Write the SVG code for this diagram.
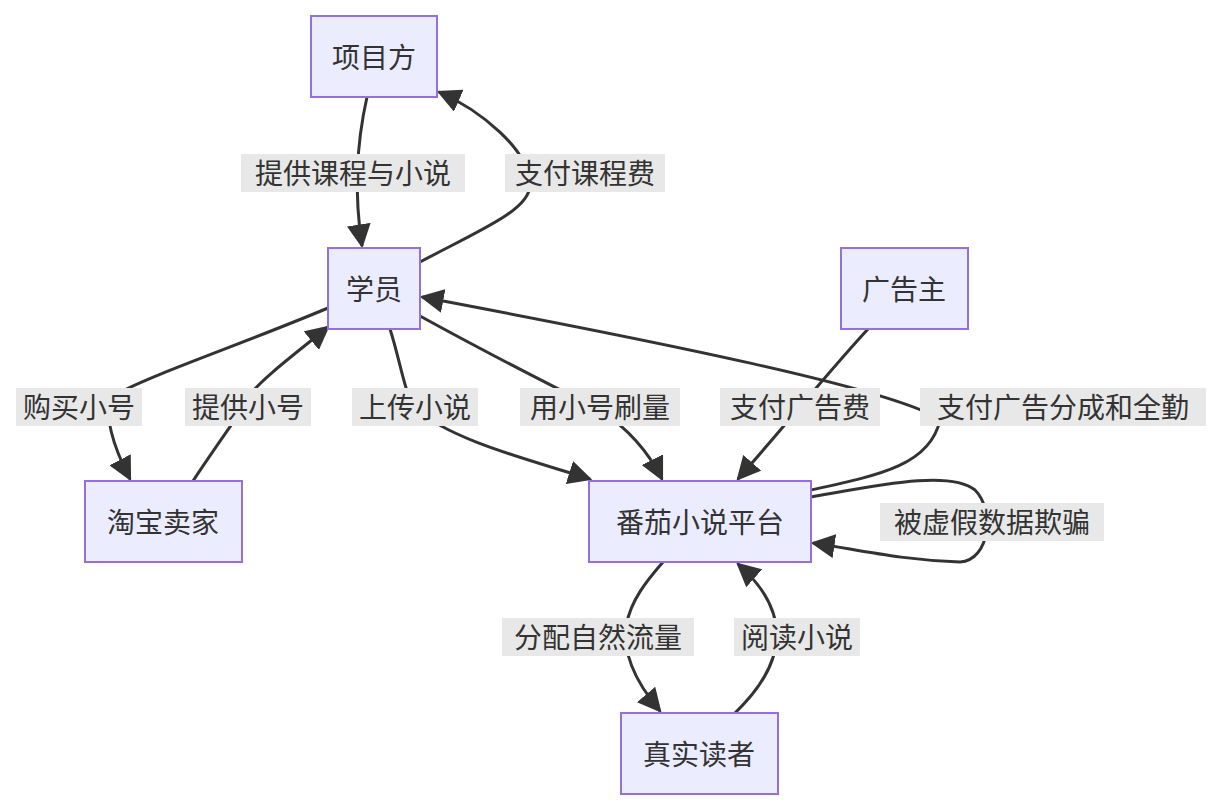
<svg xmlns="http://www.w3.org/2000/svg" width="1224" height="812" viewBox="0 0 1224 812">
<style>
.n rect{fill:#ECECFF;stroke:#9370DB;stroke-width:2}
text{font-family:"Noto Sans CJK SC","Noto Sans",sans-serif;font-size:28px;fill:#333;text-anchor:middle;dominant-baseline:central}
.e path{fill:none;stroke:#333;stroke-width:3;marker-end:url(#a)}
.l rect{fill:#e8e8e8}
</style>
<defs><marker id="a" viewBox="0 0 10 10" refX="8" refY="5" markerWidth="7" markerHeight="7" orient="auto" markerUnits="userSpaceOnUse" ><path d="M0,0L10,5L0,10z" fill="#333"/></marker></defs>
<defs><marker id="b" viewBox="0 0 10 10" refX="9" refY="5" markerWidth="24" markerHeight="24" orient="auto" markerUnits="userSpaceOnUse"><path d="M0,0L10,5L0,10z" fill="#333"/></marker></defs>
<rect width="1224" height="812" fill="#fff"/>
<g class="e" style="--x:0">
<path style="marker-end:url(#b)" d="M367,97 C355,150 355,200 362,246"/>
<path style="marker-end:url(#b)" d="M420,262 C480,230 530,210 530,185 C530,150 480,110 439,92"/>
<path style="marker-end:url(#b)" d="M328,308 C240,345 150,375 115,395 C100,410 115,450 130,479"/>
<path style="marker-end:url(#b)" d="M193,481 C220,440 250,400 250,395 C260,380 300,350 328,327"/>
<path style="marker-end:url(#b)" d="M390,329 C400,360 405,395 415,408 C450,440 530,460 590,479"/>
<path style="marker-end:url(#b)" d="M420,316 C500,360 560,390 600,410 C630,430 650,455 662,479"/>
<path style="marker-end:url(#b)" d="M868,329 C830,370 790,420 738,479"/>
<path style="marker-end:url(#b)" d="M811,490 C880,475 930,465 940,420 C900,390 650,340 422,297"/>
<path style="marker-end:url(#b)" d="M811,497 C880,485 950,470 975,490 C995,510 990,560 960,562 C900,560 860,550 813,543"/>
<path style="marker-end:url(#b)" d="M663,562 C630,600 600,640 660,711"/>
<path style="marker-end:url(#b)" d="M735,713 C790,660 790,610 738,564"/>
</g>
<g class="l">
<rect x="241" y="154" width="224" height="38"/><text x="353" y="172">提供课程与小说</text>
<rect x="505" y="154" width="160" height="38"/><text x="585" y="172">支付课程费</text>
<rect x="16" y="388" width="126" height="38"/><text x="79" y="406">购买小号</text>
<rect x="185" y="388" width="126" height="38"/><text x="248" y="406">提供小号</text>
<rect x="352" y="388" width="126" height="38"/><text x="415" y="406">上传小说</text>
<rect x="520" y="388" width="160" height="38"/><text x="600" y="406">用小号刷量</text>
<rect x="720" y="388" width="160" height="38"/><text x="800" y="406">支付广告费</text>
<rect x="920" y="388" width="286" height="38"/><text x="1063" y="406">支付广告分成和全勤</text>
<rect x="880" y="503" width="224" height="38"/><text x="992" y="521">被虚假数据欺骗</text>
<rect x="502" y="618" width="192" height="38"/><text x="598" y="636">分配自然流量</text>
<rect x="734" y="618" width="126" height="38"/><text x="797" y="636">阅读小说</text>
</g>
<g id="n1" class="n"><rect x="311" y="16" width="126" height="81"/><text x="374" y="56">项目方</text></g>
<g id="n2" class="n"><rect x="328" y="248" width="92" height="81"/><text x="374" y="288">学员</text></g>
<g id="n3" class="n"><rect x="841" y="248" width="127" height="81"/><text x="904" y="288">广告主</text></g>
<g id="n4" class="n"><rect x="85" y="481" width="157" height="81"/><text x="163" y="521">淘宝卖家</text></g>
<g id="n5" class="n"><rect x="589" y="481" width="222" height="81"/><text x="700" y="521">番茄小说平台</text></g>
<g id="n6" class="n"><rect x="621" y="713" width="157" height="81"/><text x="699" y="753">真实读者</text></g>
</svg>
